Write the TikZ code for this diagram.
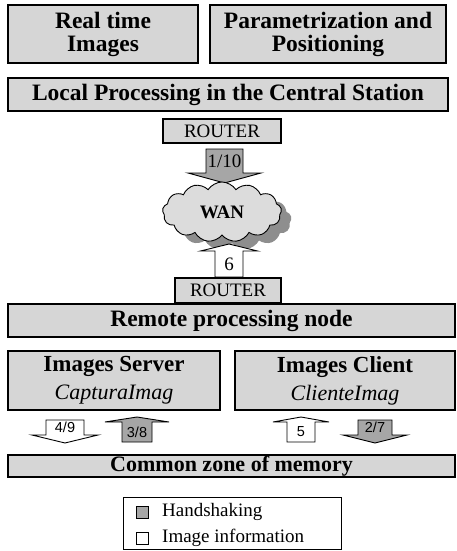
\documentclass[tikz,border=0pt]{standalone}
\usepackage{fontspec}
\setmainfont{Liberation Serif}
\newfontfamily\lblsans{Liberation Sans}
\usetikzlibrary{shapes.symbols}

\definecolor{boxgray}{HTML}{D6D6D6}
\definecolor{hsgray}{HTML}{A6A6A6}
\definecolor{cloudgray}{HTML}{DCDCDC}
\definecolor{shadowgray}{HTML}{8E8E8E}

\tikzset{
  panel/.style={draw=black, line width=1.3pt, fill=boxgray, inner sep=0pt, align=center},
  bigtext/.style={font=\fontsize{23.5}{23}\selectfont\bfseries},
  roletext/.style={font=\fontsize{23}{28}\selectfont\bfseries},
  routerbox/.style={draw=black, line width=1.1pt, fill=boxgray, inner sep=0pt,
    font=\fontsize{19}{21}\selectfont},
  callout/.style={draw=black, line width=0.9pt, line join=miter},
  toplabel/.style={font=\fontsize{19}{21}\selectfont, inner sep=0pt},
  lowlabel/.style={font=\lblsans\fontsize{14.5}{16}\selectfont, inner sep=0pt},
  swatch/.style={draw=black, line width=0.7pt, minimum size=12pt, inner sep=0pt},
  legendtext/.style={font=\fontsize{19}{21}\selectfont, anchor=base west, inner sep=0pt}
}

% block arrow pointing down: name, centre x, top y, shaft length, shaft half width,
% wing half width, head length, fill, label style+text
\newcommand\DownBlock[9]{%
  \draw[callout, fill=#8] ({#2-#5},#3) -- ({#2+#5},#3) -- ({#2+#5},{#3+#4})
    -- ({#2+#6},{#3+#4}) -- (#2,{#3+#4+#7}) -- ({#2-#6},{#3+#4})
    -- ({#2-#5},{#3+#4}) -- cycle;
  \node[#9] (#1) at (#2,{#3+#4/2}) {};}
% block arrow pointing up: same arguments, but the y given is the shaft bottom
\newcommand\UpBlock[9]{%
  \draw[callout, fill=#8] ({#2-#5},#3) -- ({#2+#5},#3) -- ({#2+#5},{#3-#4})
    -- ({#2+#6},{#3-#4}) -- (#2,{#3-#4-#7}) -- ({#2-#6},{#3-#4})
    -- ({#2-#5},{#3-#4}) -- cycle;
  \node[#9] (#1) at (#2,{#3-#4/2}) {};}

\begin{document}
\begin{tikzpicture}[x=1pt,y=-1pt]
\useasboundingbox (0,0) rectangle (456,551);
\fill[white] (0,0) rectangle (456,551);

% central station
\node[panel, bigtext, minimum width=190pt, minimum height=58pt] (rti) at (103,34)
  {Real time\\Images};
\node[panel, bigtext, minimum width=236pt, minimum height=58pt] (par) at (328,34)
  {Parametrization and\\Positioning};
\node[panel, bigtext, minimum width=440pt, minimum height=33pt] (local) at (228,94.5)
  {Local Processing in the Central Station};
\node[routerbox, minimum width=118pt, minimum height=24pt] (r1) at (222,131) {ROUTER};

% wide area network
\node[cloud, cloud puffs=13, cloud puff arc=115, aspect=2, fill=shadowgray, draw=none,
  minimum width=119pt, minimum height=60pt, inner sep=0pt] (wanshadow) at (232,220) {};
\DownBlock{a110}{224.5}{149}{24}{18.5}{36.5}{10}{hsgray}{toplabel, label={[toplabel]center:1/10}}
\node[cloud, cloud puffs=13, cloud puff arc=115, aspect=2, fill=cloudgray, draw=black,
  line width=0.9pt, minimum width=119pt, minimum height=60pt, inner sep=0pt,
  font=\fontsize{19}{21}\selectfont\bfseries] (wan) at (222,212) {WAN};
\UpBlock{a6}{229}{277}{26}{14}{28.5}{7}{white}{toplabel, label={[toplabel]center:6}}

\node[routerbox, minimum width=106pt, minimum height=25pt] (r2) at (228,290.5) {ROUTER};

% remote side
\node[panel, bigtext, minimum width=447pt, minimum height=33pt] (remote) at (231.5,320.5)
  {Remote processing node};
\node[panel, roletext, minimum width=212pt, minimum height=59pt] (server) at (114,380.5)
  {Images Server\\{\mdseries\itshape\fontsize{22}{28}\selectfont CapturaImag}};
\node[panel, roletext, minimum width=220pt, minimum height=59pt] (client) at (345,380.5)
  {Images Client\\{\mdseries\itshape\fontsize{22}{28}\selectfont ClienteImag}};

\DownBlock{a49}{65}{420}{15}{19}{33}{8}{white}{lowlabel, label={[lowlabel]center:4/9}}
\UpBlock{a38}{137}{442}{20}{15}{32}{5}{hsgray}{lowlabel, label={[lowlabel]center:3/8}}
\UpBlock{a5}{301}{442}{20}{14}{28}{5}{white}{lowlabel, label={[lowlabel]center:5}}
\DownBlock{a27}{375}{420}{15}{17}{32}{8}{hsgray}{lowlabel, label={[lowlabel]center:2/7}}

\node[panel, font=\fontsize{22}{24}\selectfont\bfseries, minimum width=447pt,
  minimum height=22pt] (memory) at (231.5,466) {Common zone of memory};

% key
\node[draw=black, line width=0.9pt, minimum width=218pt, minimum height=52pt,
  inner sep=0pt] (legend) at (232,523.5) {};
\node[swatch, fill=hsgray] (sw1) at (142.5,512) {};
\node[legendtext] (hs) at (162,516) {Handshaking};
\node[swatch, fill=white] (sw2) at (142.5,538) {};
\node[legendtext] (ii) at (162,542) {Image information};
\end{tikzpicture}
\end{document}
